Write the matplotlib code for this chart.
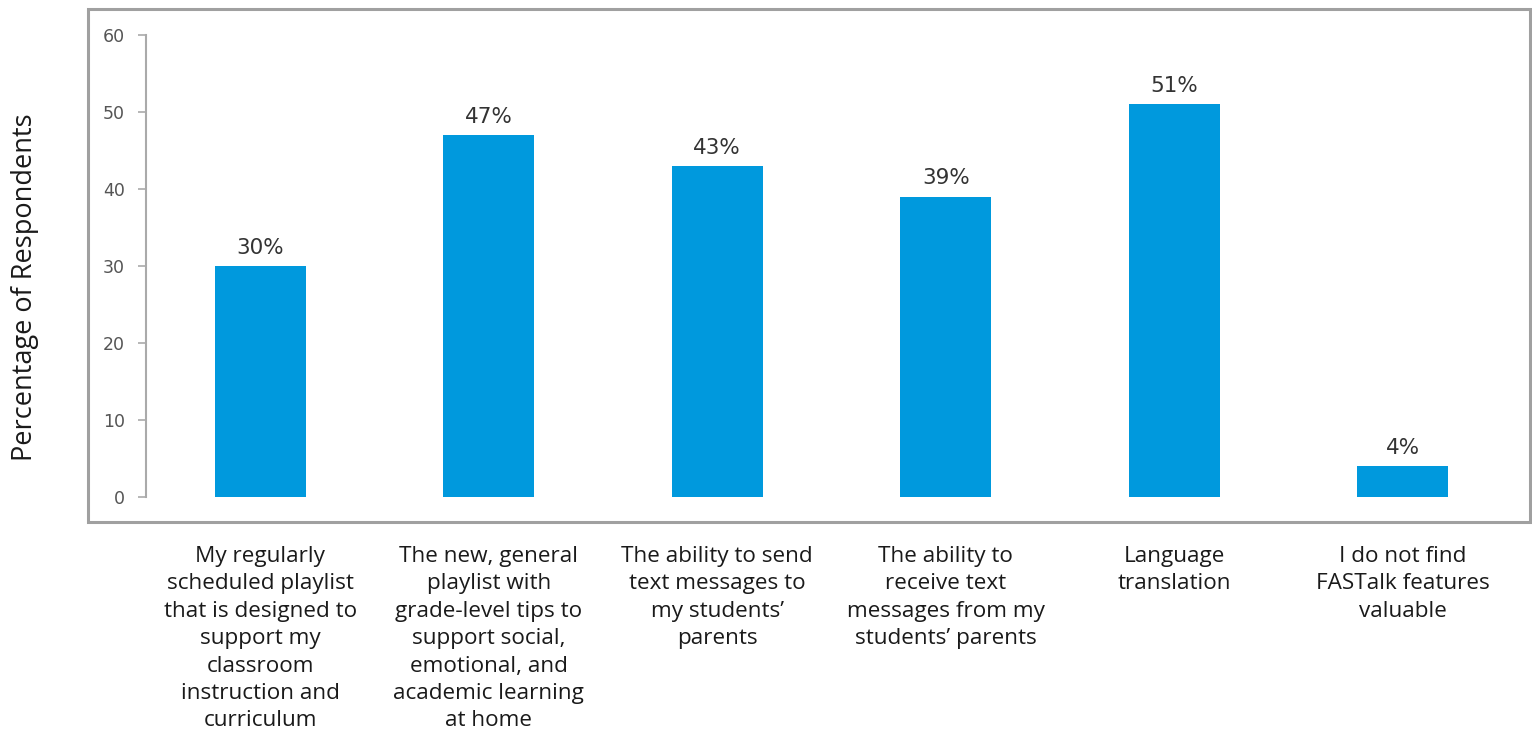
import matplotlib.pyplot as plt
from matplotlib.patches import Rectangle
import matplotlib.transforms as mtransforms

# chart data
categories = [
    "My regularly\nscheduled playlist\nthat is designed to\nsupport my\nclassroom\ninstruction and\ncurriculum",
    "The new, general\nplaylist with\ngrade-level tips to\nsupport social,\nemotional, and\nacademic learning\nat home",
    "The ability to send\ntext messages to\nmy students\u2019\nparents",
    "The ability to\nreceive text\nmessages from my\nstudents\u2019 parents",
    "Language\ntranslation",
    "I do not find\nFASTalk features\nvaluable",
]
values = [30, 47, 43, 39, 51, 4]
yticks = [0, 10, 20, 30, 40, 50, 60]

W, H = 1532, 735
fig = plt.figure(figsize=(W / 100, H / 100), dpi=100)
fig.patch.set_facecolor("white")

# outer grey frame
frame = Rectangle((88 / W, 1 - 522 / H), (1530 - 88) / W, (522 - 9) / H,
                  transform=fig.transFigure, fill=False, edgecolor="#a0a0a0",
                  linewidth=2.2, zorder=0)
fig.patches.append(frame)

ax = fig.add_axes([146 / W, 1 - 497 / H, (1529 - 146) / W, (497 - 35) / H])
ax.set_facecolor("none")
x = list(range(len(values)))
ax.bar(x, values, width=0.4, color="#0099dd", zorder=2)

ax.set_ylim(0, 60)
ax.set_xlim(-0.5, -0.5 + (1529 - 146) / 228.5)
ax.set_yticks(yticks)
ax.set_xticks([])
for s in ["top", "right", "bottom"]:
    ax.spines[s].set_visible(False)
ax.spines["left"].set_color("#aaaaaa")
ax.spines["left"].set_linewidth(1.5)
ax.tick_params(axis="y", length=6, width=1.2, color="#aaaaaa",
               labelsize=12.5, labelcolor="#555555", pad=9)

# value labels
for xi, v in zip(x, values):
    ax.annotate(f"{v}%", (xi, v), xytext=(0, 6), textcoords="offset points",
                ha="center", va="bottom", fontsize=15.5, color="#333333")

# category labels under the frame
trans = mtransforms.blended_transform_factory(ax.transData, fig.transFigure)
for xi, lab in zip(x, categories):
    ax.text(xi, 1 - 546 / H, lab, transform=trans, ha="center", va="top",
            fontsize=16.2, family="Open Sans", color="#1a1a1a", linespacing=1.4)

fig.text(25 / W, 1 - 287 / H, "Percentage of Respondents", rotation=90,
         ha="center", va="center", fontsize=19.5, family="Open Sans", color="#1a1a1a")

fig.savefig("out.png", dpi=100)
